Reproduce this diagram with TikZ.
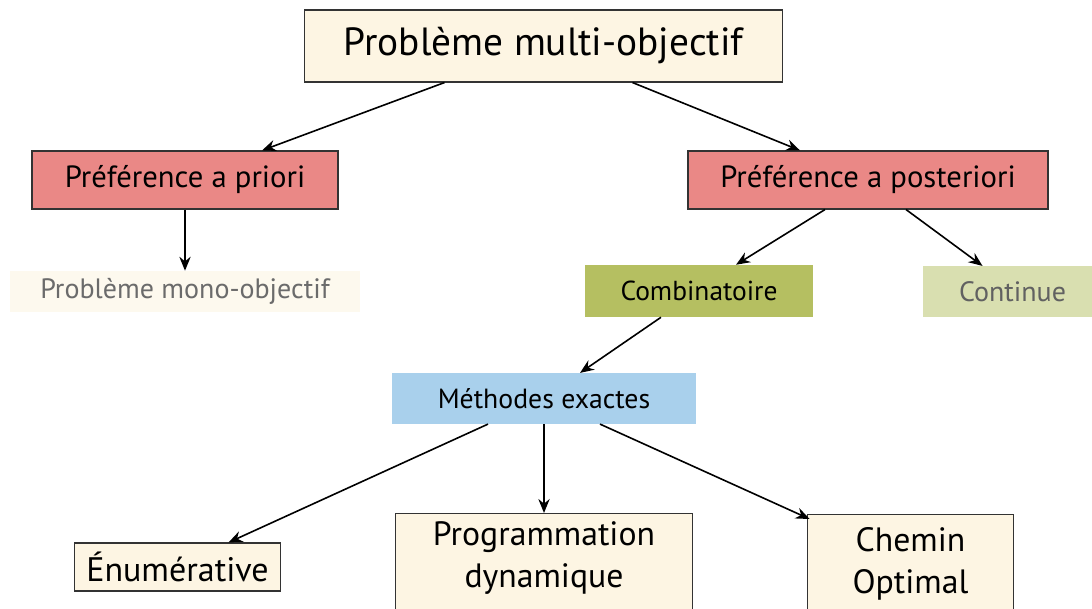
\documentclass[tikz,border=0pt]{standalone}
\usepackage{fontspec}
\setmainfont{PT Sans}
\usepackage{xcolor}
\usetikzlibrary{arrows.meta,calc,positioning}

\definecolor{creme}{HTML}{FDF5E3}
\definecolor{cremepale}{HTML}{FDF9EE}
\definecolor{rouge}{HTML}{EA8886}
\definecolor{olive}{HTML}{B5BF61}
\definecolor{olivepale}{HTML}{D9DFB0}
\definecolor{bleu}{HTML}{A9D0EC}
\definecolor{bord}{HTML}{333333}

\begin{document}
\begin{tikzpicture}[x=0.75pt,y=-0.75pt,
  >={Stealth[length=10.5pt,width=8.5pt,inset=3.5pt]},
  arr/.style={->,line width=1.2pt},
  boite/.style={draw=bord,line width=0.8pt,inner sep=0pt,align=center},
  plat/.style={inner sep=0pt,align=center}]

\useasboundingbox (0,0) rectangle (1092,609);

% =========================================================
% Top level
% =========================================================
\node[boite,fill=creme,minimum width=359pt,minimum height=54pt,
  font=\fontsize{29.5}{34}\selectfont] (title) at (543.5,46)
{Problème multi-objectif};

\node[boite,fill=rouge,minimum width=229.5pt,minimum height=43.5pt,
  font=\fontsize{23}{27}\selectfont] (priori) at (185,180)
{Préférence a priori};

\node[boite,fill=rouge,minimum width=270pt,minimum height=43.5pt,
  font=\fontsize{23}{27}\selectfont] (posteriori) at (868,180)
{Préférence a posteriori};

% Second level
\node[plat,fill=cremepale,text=black!58,minimum width=262.5pt,minimum height=30.75pt,
  font=\fontsize{21}{25}\selectfont] (mono) at (185,291.5)
{Problème mono-objectif};

\node[plat,fill=olive,minimum width=171pt,minimum height=39pt,
  font=\fontsize{20.6}{25}\selectfont] (combi) at (699,291)
{Combinatoire};

\node[plat,fill=olivepale,text=black!62,minimum width=134pt,minimum height=38pt,
  font=\fontsize{21}{25}\selectfont] (cont) at (1012.5,291.5)
{Continue};

% Methods
\node[plat,fill=bleu,minimum width=228pt,minimum height=38pt,
  font=\fontsize{20.8}{25}\selectfont] (methodes) at (544,398.5)
{Méthodes exactes};

\node[boite,fill=creme,minimum width=154pt,minimum height=36pt,
  font=\fontsize{25.5}{30}\selectfont] (enum) at (177.5,567)
{Énumérative};

\node[boite,fill=creme,anchor=north,minimum width=223pt,inner ysep=6pt,
  text depth=60pt,font=\fontsize{25.3}{31.5}\selectfont] (prog) at (544,513)
{Programmation\\dynamique};

\node[boite,fill=creme,anchor=north,minimum width=155pt,inner ysep=10pt,
  text depth=60pt,font=\fontsize{25.3}{31.5}\selectfont] (chemin) at (910.5,514)
{Chemin\\Optimal};

% Connectors
\draw[arr] ($(title.south)+(-99,0)$) -- ($(priori.north)+(77,0)$);
\draw[arr] ($(title.south)+(89,0)$) -- ($(posteriori.north)+(-68,0)$);
\draw[arr] (priori.south) -- (mono.north);
\draw[arr] ($(posteriori.south)+(-43,0)$) -- ($(combi.north)+(37,0)$);
\draw[arr] ($(posteriori.south)+(38,0)$) -- ($(cont.north)+(-30,0)$);
\draw[arr] ($(combi.south)+(-38,0)$) -- ($(methodes.north)+(36,0)$);
\draw[arr] ($(methodes.south)+(-56,0)$) -- ($(enum.north)+(51,0)$);
\draw[arr] (methodes.south) -- (prog.north);
\draw[arr] ($(methodes.south)+(56,0)$) -- ($(chemin.north west)+(3,5)$);

\end{tikzpicture}
\end{document}
